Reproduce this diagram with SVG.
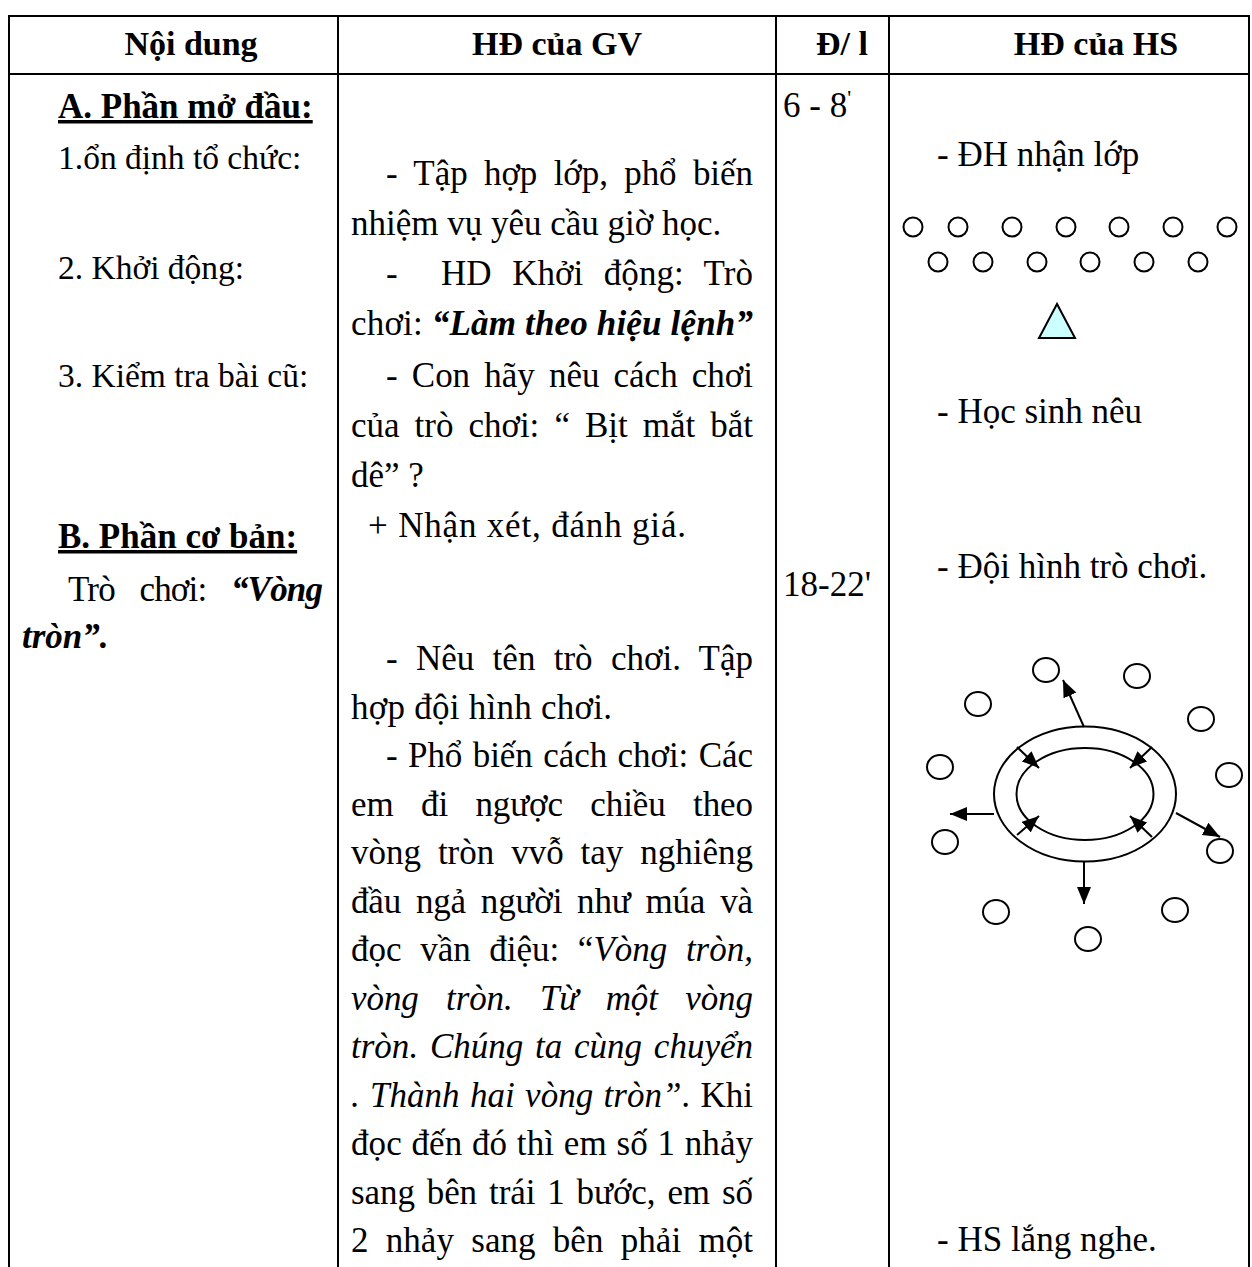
<svg xmlns="http://www.w3.org/2000/svg" width="1252" height="1267" viewBox="0 0 1252 1267">
<style>
text{font-family:"Liberation Serif","Times New Roman",serif;font-size:35px;fill:#000}
.h{font-weight:bold;font-size:34px;text-anchor:middle}
.b{font-weight:bold}
.bi{font-weight:bold;font-style:italic}
.i{font-style:italic}
.s{font-size:33.5px}
.grid line{stroke:#000;stroke-width:2}
.dot{fill:#fff;stroke:#000;stroke-width:2}
.ring{fill:none;stroke:#000;stroke-width:2}
.arr{stroke:#000;stroke-width:2;fill:none;marker-end:url(#ah)}
</style>
<defs>
<marker id="ah" markerUnits="userSpaceOnUse" markerWidth="18" markerHeight="14" refX="17" refY="7" orient="auto">
<path d="M0,0 L17,7 L0,14 z" fill="#000"/>
</marker>
</defs>
<rect width="1252" height="1267" fill="#fff"/>
<g id="table-grid" class="grid">
<line x1="8" y1="16" x2="1250" y2="16"/>
<line x1="8" y1="74" x2="1250" y2="74"/>
<line x1="9" y1="15" x2="9" y2="1267"/>
<line x1="338" y1="15" x2="338" y2="1267"/>
<line x1="776" y1="15" x2="776" y2="1267"/>
<line x1="889" y1="15" x2="889" y2="1267"/>
<line x1="1249" y1="15" x2="1249" y2="1267"/>
</g>
<g id="header">
<text class="h" x="191" y="55">Nội dung</text>
<text class="h" x="557" y="55">HĐ của GV</text>
<text class="h" x="842" y="55">Đ/ l</text>
<text class="h" x="1096" y="55">HĐ của HS</text>
</g>
<g id="col-noi-dung">
<text class="b" x="58" y="118" text-decoration="underline">A. Phần mở đầu:</text>
<text class="s" x="58" y="169">1.ổn định tổ chức:</text>
<text class="s" x="58" y="279">2. Khởi động:</text>
<text class="s" x="58" y="387">3. Kiểm tra bài cũ:</text>
<text class="b" x="58" y="548" text-decoration="underline">B. Phần cơ bản:</text>
<text x="68" y="601" word-spacing="16.6" textLength="255" lengthAdjust="spacing">Trò chơi: <tspan class="bi">“Vòng</tspan></text>
<text class="bi" x="22" y="648">tròn”.</text>
</g>
<g id="col-hd-gv">
<text x="386" y="185" word-spacing="7.7" textLength="367" lengthAdjust="spacing">- Tập hợp lớp, phổ biến</text>
<text x="351" y="235">nhiệm vụ yêu cầu giờ học.</text>
<text x="386" y="285">-</text>
<text x="441" y="285" word-spacing="11.7" textLength="312" lengthAdjust="spacing">HD Khởi động: Trò</text>
<text x="351" y="335" textLength="402" lengthAdjust="spacing">chơi: <tspan class="bi">“Làm theo hiệu lệnh”</tspan></text>
<text x="386" y="387" word-spacing="5.5" textLength="367" lengthAdjust="spacing">- Con hãy nêu cách chơi</text>
<text x="351" y="437" word-spacing="6.4" textLength="402" lengthAdjust="spacing">của trò chơi: “ Bịt mắt bắt</text>
<text x="351" y="487">dê” ?</text>
<text x="368" y="537" textLength="318" lengthAdjust="spacing">+ Nhận xét, đánh giá.</text>
<text x="386" y="670" word-spacing="9.6" textLength="367" lengthAdjust="spacing">- Nêu tên trò chơi. Tập</text>
<text x="351" y="718.5" textLength="261" lengthAdjust="spacing">hợp đội hình chơi.</text>
<text x="386" y="767" word-spacing="1.7" textLength="367" lengthAdjust="spacing">- Phổ biến cách chơi: Các</text>
<text x="351" y="815.5" word-spacing="18.8" textLength="402" lengthAdjust="spacing">em đi ngược chiều theo</text>
<text x="351" y="864" word-spacing="8.1" textLength="402" lengthAdjust="spacing">vòng tròn vvỗ tay nghiêng</text>
<text x="351" y="912.5" word-spacing="6.3" textLength="402" lengthAdjust="spacing">đầu ngả người như múa và</text>
<text x="351" y="961" word-spacing="9.8" textLength="402" lengthAdjust="spacing">đọc vần điệu: “<tspan class="i">Vòng tròn,</tspan></text>
<text class="i" x="351" y="1009.5" word-spacing="18.6" textLength="402" lengthAdjust="spacing">vòng tròn. Từ một vòng</text>
<text class="i" x="351" y="1058" word-spacing="3" textLength="402" lengthAdjust="spacing">tròn. Chúng ta cùng chuyển</text>
<text x="351" y="1106.5" word-spacing="1.6" textLength="402" lengthAdjust="spacing"><tspan class="i">. Thành hai vòng tròn”</tspan>. Khi</text>
<text x="351" y="1155" word-spacing="0.9" textLength="402" lengthAdjust="spacing">đọc đến đó thì em số 1 nhảy</text>
<text x="351" y="1203.5" word-spacing="3.3" textLength="402" lengthAdjust="spacing">sang bên trái 1 bước, em số</text>
<text x="351" y="1252" word-spacing="8.3" textLength="402" lengthAdjust="spacing">2 nhảy sang bên phải một</text>
</g>
<g id="col-dl">
<text x="783" y="117">6 - 8<tspan font-size="22" dy="-12">'</tspan></text>
<text x="783" y="596">18-22'</text>
</g>
<g id="col-hd-hs">
<text x="937" y="166">- ĐH nhận lớp</text>
<text x="937" y="423">- Học sinh nêu</text>
<text x="937" y="578">- Đội hình trò chơi.</text>
<text x="937" y="1251">- HS lắng nghe.</text>
</g>
<g id="formation">
<circle class="dot" cx="913" cy="227" r="9.5"/>
<circle class="dot" cx="958" cy="227" r="9.5"/>
<circle class="dot" cx="1012" cy="227" r="9.5"/>
<circle class="dot" cx="1066" cy="227" r="9.5"/>
<circle class="dot" cx="1119" cy="227" r="9.5"/>
<circle class="dot" cx="1173" cy="227" r="9.5"/>
<circle class="dot" cx="1227" cy="227" r="9.5"/>
<circle class="dot" cx="938" cy="262" r="9.5"/>
<circle class="dot" cx="983" cy="262" r="9.5"/>
<circle class="dot" cx="1037" cy="262" r="9.5"/>
<circle class="dot" cx="1090" cy="262" r="9.5"/>
<circle class="dot" cx="1144" cy="262" r="9.5"/>
<circle class="dot" cx="1198" cy="262" r="9.5"/>
<polygon points="1057,304 1039,338 1075,338" fill="#ccffff" stroke="#000" stroke-width="2"/>
</g>
<g id="game-diagram">
<ellipse class="ring" cx="1085" cy="794" rx="91" ry="67.5"/>
<ellipse class="ring" cx="1085" cy="794" rx="68.5" ry="46"/>
<ellipse class="dot" cx="1046" cy="670" rx="13" ry="12"/>
<ellipse class="dot" cx="1137" cy="676" rx="13" ry="12"/>
<ellipse class="dot" cx="978" cy="704" rx="13" ry="12"/>
<ellipse class="dot" cx="1201" cy="719" rx="13" ry="12"/>
<ellipse class="dot" cx="940" cy="767" rx="13" ry="12"/>
<ellipse class="dot" cx="1229" cy="775" rx="13" ry="12"/>
<ellipse class="dot" cx="945" cy="842" rx="13" ry="12"/>
<ellipse class="dot" cx="1220" cy="851" rx="13" ry="12"/>
<ellipse class="dot" cx="996" cy="912" rx="13" ry="12"/>
<ellipse class="dot" cx="1175" cy="910" rx="13" ry="12"/>
<ellipse class="dot" cx="1088" cy="939" rx="13" ry="12"/>
</g>
<g id="connectors">
<line class="arr" x1="1084" y1="727" x2="1063" y2="680"/>
<line class="arr" x1="994" y1="814" x2="950" y2="814"/>
<line class="arr" x1="1084" y1="861" x2="1084" y2="904"/>
<line class="arr" x1="1176" y1="813" x2="1220" y2="837"/>
<line class="arr" x1="1017" y1="747" x2="1039" y2="768"/>
<line class="arr" x1="1152" y1="747" x2="1130" y2="768"/>
<line class="arr" x1="1017" y1="835" x2="1039" y2="816"/>
<line class="arr" x1="1152" y1="837" x2="1130" y2="816"/>
</g>
</svg>
